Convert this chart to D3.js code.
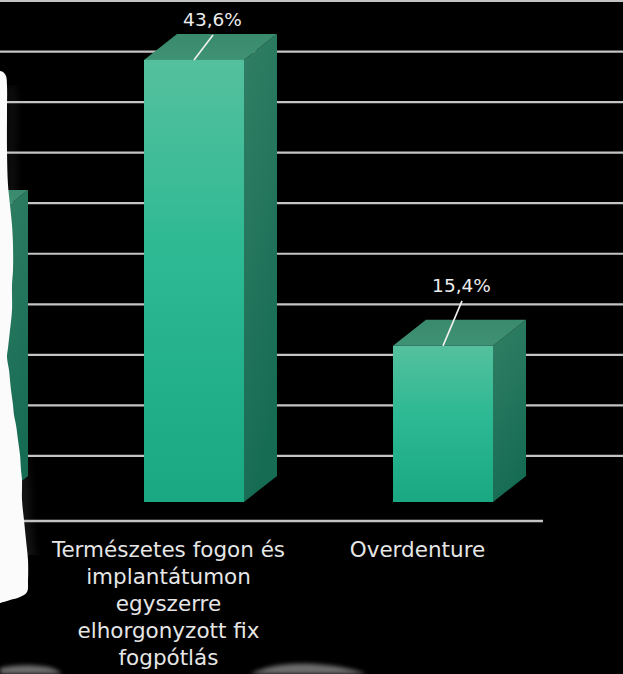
<!DOCTYPE html>
<html><head><meta charset="utf-8">
<script src="https://cdn.jsdelivr.net/npm/d3@7"></script>
<style>html,body{margin:0;padding:0;background:#000;overflow:hidden}</style>
</head><body>
<svg id="chart" width="623" height="674"></svg>
<script>
// Categories (the first one sits outside the visible frame, behind the torn paper)
const categories = ["cat0", "Természetes fogon és implantátumon egyszerre elhorgonyzott fix fogpótlás", "Overdenture"];
const categoryLines = [
  [],
  ["Természetes fogon és", "implantátumon", "egyszerre", "elhorgonyzott fix", "fogpótlás"],
  ["Overdenture"]
];
const values = [28.2, 43.6, 15.4];
const valueLabels = ["28,2%", "43,6%", "15,4%"];
const gridTicks = [5, 10, 15, 20, 25, 30, 35, 40, 45, 50];

const W = 623, H = 674;
const svg = d3.select("#chart");
const defs = svg.append("defs");

// gradients for the three visible faces of each 3D column
const gFront = defs.append("linearGradient").attr("id", "front").attr("x1", 0).attr("y1", 0).attr("x2", 0).attr("y2", 1);
gFront.append("stop").attr("offset", "0%").attr("stop-color", "#55c09d");
gFront.append("stop").attr("offset", "45%").attr("stop-color", "#2cb993");
gFront.append("stop").attr("offset", "100%").attr("stop-color", "#19a882");
const gSide = defs.append("linearGradient").attr("id", "side").attr("x1", 0).attr("y1", 0).attr("x2", 0.3).attr("y2", 1);
gSide.append("stop").attr("offset", "0%").attr("stop-color", "#317f65");
gSide.append("stop").attr("offset", "100%").attr("stop-color", "#166c53");
const gTop = defs.append("linearGradient").attr("id", "top").attr("x1", 0).attr("y1", 1).attr("x2", 0).attr("y2", 0);
gTop.append("stop").attr("offset", "0%").attr("stop-color", "#3f9274");
gTop.append("stop").attr("offset", "100%").attr("stop-color", "#3a8a6e");

const blurSoft = defs.append("filter").attr("id", "soft").attr("x", "-20%").attr("y", "-20%").attr("width", "140%").attr("height", "140%");
blurSoft.append("feGaussianBlur").attr("stdDeviation", 0.7);
const blurWide = defs.append("filter").attr("id", "wide").attr("x", "-50%").attr("y", "-50%").attr("width", "200%").attr("height", "200%");
blurWide.append("feGaussianBlur").attr("stdDeviation", 4);
const blurDust = defs.append("filter").attr("id", "dust").attr("x", "-50%").attr("y", "-50%").attr("width", "200%").attr("height", "200%");
blurDust.append("feGaussianBlur").attr("stdDeviation", 2.2);
defs.append("clipPath").attr("id", "shadeClip")
  .append("rect").attr("x", 0).attr("y", 85).attr("width", 80).attr("height", 470);

svg.append("rect").attr("width", W).attr("height", H).attr("fill", "#000");

// scales
const x = d3.scaleBand().domain(categories).range([-179.5, 567.5]).padding(0);
const barW = x.bandwidth() * 0.4016;
const y = d3.scaleLinear().domain([0, 50]).range([502, -5]);      // front plane of the columns
const grid = d3.scaleLinear().domain([0, 50]).range([506.5, 1]);   // back wall gridlines
const depth = { dx: 33, dy: -26 };

// torn paper outline on the left
const paperPts = [[0,71],[3,72],[6,76],[7,86],[7,110],[7,150],[8,185],[10,205],[12,225],[13,245],[13,270],[12,285],[12,310],[10,330],[8,348],[7,357],[9,370],[11,390],[13,405],[14,415],[16,425],[18,440],[20,455],[21,470],[22,480],[22,500],[24,520],[26,540],[28,560],[28,580],[27,592],[20,597],[10,600],[0,603]];
const paperPath = d3.line().curve(d3.curveCatmullRom)(paperPts) + "Z";

// faint shade cast by the paper on the black background
svg.append("g").attr("clip-path", "url(#shadeClip)")
  .append("path").attr("d", paperPath).attr("fill", "#3a3a3a").attr("opacity", 0.35)
  .attr("transform", "translate(8,12)").attr("filter", "url(#wide)");

// gridlines
svg.append("g").selectAll("line").data(gridTicks).join("line")
  .attr("x1", 0).attr("x2", W)
  .attr("y1", d => grid(d)).attr("y2", d => grid(d))
  .attr("stroke", "#c4c4c4").attr("stroke-width", 2.2);

// category axis line
svg.append("line")
  .attr("x1", 0).attr("x2", x.range()[1] - 24.5)
  .attr("y1", y(0) + 19).attr("y2", y(0) + 19)
  .attr("stroke", "#c4c4c4").attr("stroke-width", 2.4);

// 3D columns
const bars = svg.append("g").selectAll("g").data(values).join("g");
bars.each(function(v, i) {
  const g = d3.select(this);
  const x0 = x(categories[i]) + (x.bandwidth() - barW) / 2;
  const x1 = x0 + barW;
  const yt = y(v), yb = y(0);
  g.append("path")
    .attr("d", `M${x1},${yt}L${x1 + depth.dx},${yt + depth.dy}L${x1 + depth.dx},${yb + depth.dy}L${x1},${yb}Z`)
    .attr("fill", "url(#side)");
  g.append("path")
    .attr("d", `M${x0},${yt}L${x0 + depth.dx},${yt + depth.dy}L${x1 + depth.dx},${yt + depth.dy}L${x1},${yt}Z`)
    .attr("fill", "url(#top)");
  g.append("rect").attr("x", x0).attr("y", yt).attr("width", barW).attr("height", yb - yt)
    .attr("fill", "url(#front)");
});

// paper
svg.append("path").attr("d", paperPath).attr("fill", "#fbfbfb").attr("filter", "url(#soft)");

// value labels with leader lines
const labelFont = "'DejaVu Sans', sans-serif";
values.forEach((v, i) => {
  if (i === 0) return;
  const cx = x(categories[i]) + x.bandwidth() / 2;
  const base = Math.max(y(v) - 54, 26);
  svg.append("line")
    .attr("x1", cx).attr("y1", y(v)).attr("x2", cx + 19).attr("y2", base + 9)
    .attr("stroke", "#f2f2f2").attr("stroke-width", 1.6);
  svg.append("text")
    .attr("x", cx + 18.5).attr("y", base)
    .attr("text-anchor", "middle")
    .attr("font-family", labelFont).attr("font-size", 18.5)
    .attr("fill", "#ececec")
    .text(valueLabels[i]);
});

// category labels
categoryLines.forEach((lines, i) => {
  const cx = x(categories[i]) + x.bandwidth() / 2 - 25.5;
  const t = svg.append("text")
    .attr("text-anchor", "middle")
    .attr("font-family", labelFont).attr("font-size", 21.5)
    .attr("fill", "#e6e6e6");
  lines.forEach((ln, k) => {
    t.append("tspan").attr("x", cx).attr("y", 557 + k * 27).text(ln);
  });
});

// grey paper scraps along the bottom edge
const dust = svg.append("g").attr("filter", "url(#dust)").attr("fill", "#6e6e6e");
dust.append("path").attr("d", "M0,668 C12,665 30,664 48,667 C56,669 60,672 62,674 L0,674 Z");
dust.append("path").attr("d", "M250,674 C260,669 274,665 292,664 C312,663 330,665 345,668 C355,670 362,672 366,674 Z");
</script>
</body></html>
